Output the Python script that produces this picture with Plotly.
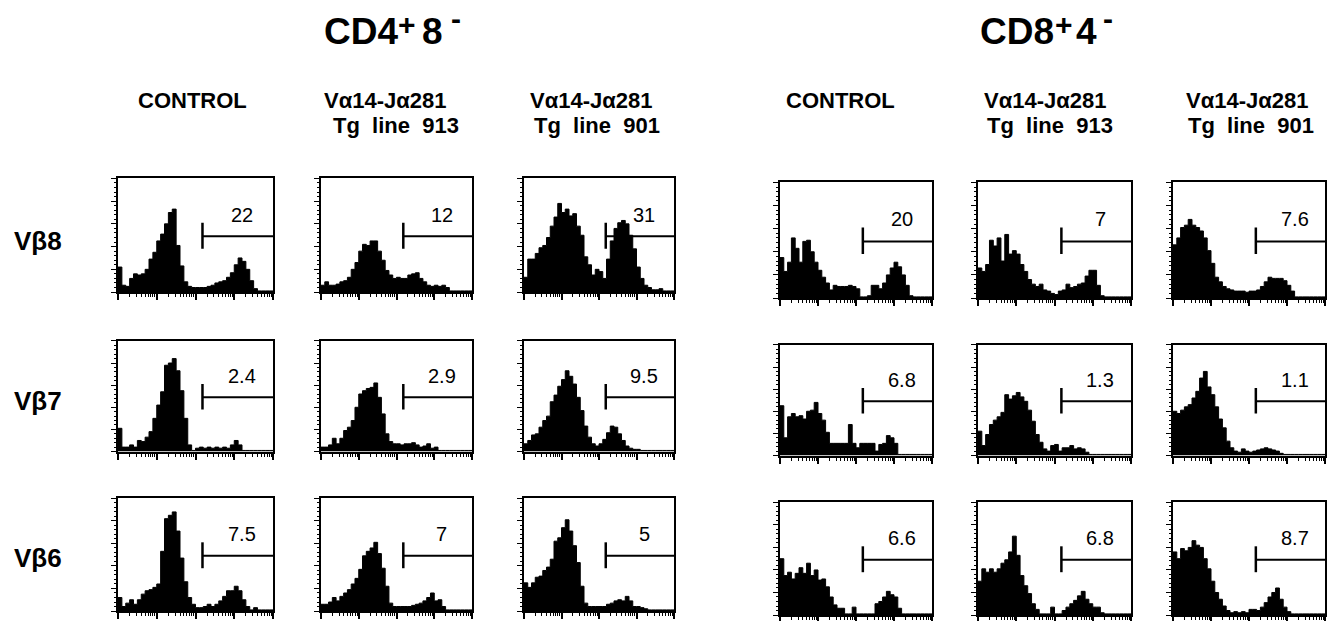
import numpy as np
import plotly.graph_objects as go

# ---------------- data (histogram heights, % of panel height, 40 bins over 4 log decades) ----
CD4_CTRL_VB8 = [22, 6, 5, 12, 16, 15, 16, 20, 29, 35, 45, 51, 60, 70, 73, 41, 23, 9, 5, 4,
                4, 4, 4, 5, 6, 8, 9, 10, 13, 17, 24, 30, 27, 20, 10, 3, 1, 1, 1, 1]
CD4_913_VB8 = [6, 9, 6, 6, 7, 9, 10, 13, 20, 26, 36, 42, 41, 45, 45, 36, 28, 19, 15, 12,
               13, 12, 12, 15, 16, 17, 12, 9, 6, 5, 6, 5, 6, 4, 1, 1, 1, 1, 1, 1]
CD4_901_VB8 = [13, 29, 29, 34, 39, 41, 48, 58, 66, 78, 70, 73, 67, 69, 58, 50, 31, 24, 15, 20,
               18, 12, 29, 45, 56, 61, 63, 60, 50, 38, 22, 12, 6, 4, 2, 2, 3, 1, 1, 1]
CD8_CTRL_VB8 = [35, 23, 31, 52, 43, 31, 49, 50, 40, 31, 24, 18, 13, 7, 11, 10, 10, 10, 11, 10,
                8, 1, 1, 2, 11, 11, 8, 13, 20, 26, 31, 27, 20, 11, 2, 1, 1, 1, 1, 1]
CD8_913_VB8 = [26, 23, 29, 50, 45, 52, 32, 55, 38, 41, 38, 29, 23, 16, 12, 10, 12, 7, 6, 4,
               3, 6, 7, 12, 9, 10, 12, 13, 19, 24, 24, 11, 2, 1, 1, 1, 1, 1, 1, 1]
CD8_901_VB8 = [46, 52, 61, 63, 68, 63, 61, 58, 52, 41, 30, 18, 14, 10, 8, 7, 6, 6, 6, 5,
               6, 6, 7, 10, 14, 18, 17, 17, 17, 15, 11, 6, 1, 1, 1, 1, 1, 1, 1, 1]

CD4_CTRL_VB7 = [21, 4, 4, 6, 4, 10, 9, 13, 18, 30, 42, 54, 78, 80, 84, 73, 55, 30, 6, 1,
                3, 4, 3, 4, 3, 4, 3, 4, 3, 6, 10, 6, 1, 1, 1, 1, 1, 1, 1, 1]
CD4_913_VB7 = [4, 4, 6, 12, 7, 12, 19, 22, 28, 40, 52, 55, 57, 58, 62, 49, 34, 16, 9, 7,
               7, 6, 7, 7, 8, 6, 4, 5, 7, 3, 4, 1, 1, 1, 1, 1, 1, 1, 1, 1]
CD4_901_VB7 = [7, 10, 15, 16, 22, 28, 32, 45, 51, 59, 65, 73, 68, 61, 49, 37, 23, 13, 7, 5,
               7, 11, 17, 23, 22, 16, 10, 5, 3, 2, 2, 1, 1, 1, 1, 1, 1, 1, 1, 1]
CD8_CTRL_VB7 = [45, 16, 35, 38, 35, 36, 33, 40, 41, 48, 38, 32, 21, 11, 11, 11, 11, 11, 28, 11,
                7, 11, 11, 11, 11, 4, 10, 11, 18, 16, 11, 1, 1, 1, 1, 1, 1, 1, 1, 1]
CD8_913_VB7 = [22, 9, 19, 28, 32, 35, 39, 55, 51, 54, 57, 53, 49, 41, 31, 19, 12, 6, 4, 9,
               10, 4, 7, 7, 9, 6, 7, 6, 3, 1, 1, 1, 1, 1, 1, 1, 1, 1, 1, 1]
CD8_901_VB7 = [40, 38, 41, 44, 46, 52, 58, 70, 76, 62, 55, 44, 33, 25, 13, 7, 4, 3, 6, 4,
               3, 4, 5, 6, 7, 6, 5, 4, 2, 1, 1, 1, 1, 1, 1, 1, 1, 1, 1, 1]

CD4_CTRL_VB6 = [12, 4, 7, 10, 6, 10, 15, 18, 19, 21, 24, 53, 82, 85, 88, 71, 47, 26, 12, 6,
                3, 3, 4, 6, 4, 6, 9, 13, 18, 18, 22, 18, 10, 4, 1, 3, 1, 1, 1, 1]
CD4_913_VB6 = [6, 6, 8, 12, 9, 13, 16, 19, 24, 29, 37, 49, 53, 56, 61, 51, 38, 22, 7, 4,
               4, 4, 4, 4, 5, 6, 7, 9, 12, 16, 9, 10, 4, 1, 1, 1, 1, 1, 1, 1]
CD4_901_VB6 = [25, 21, 25, 30, 31, 36, 39, 46, 62, 65, 74, 81, 71, 58, 43, 22, 7, 4, 4, 4,
               4, 4, 6, 7, 9, 10, 9, 13, 9, 4, 4, 3, 2, 1, 1, 1, 1, 1, 1, 1]
CD8_CTRL_VB6 = [50, 35, 38, 32, 37, 42, 37, 46, 35, 40, 31, 32, 25, 16, 9, 6, 6, 1, 1, 7,
                1, 1, 1, 1, 1, 10, 12, 16, 21, 18, 16, 6, 1, 1, 1, 1, 1, 1, 1, 1]
CD8_913_VB6 = [30, 41, 38, 41, 38, 41, 46, 49, 56, 70, 53, 35, 26, 19, 10, 5, 1, 1, 1, 7,
               1, 1, 4, 7, 10, 13, 17, 21, 14, 10, 7, 7, 2, 1, 1, 1, 1, 1, 1, 1]
CD8_901_VB6 = [56, 50, 59, 57, 60, 66, 62, 60, 50, 41, 30, 20, 14, 8, 4, 2, 3, 2, 3, 2,
               5, 5, 4, 7, 11, 16, 20, 24, 14, 7, 3, 1, 1, 1, 1, 1, 1, 1, 1, 1]

GATE_PCT = ["22", "12", "31", "20", "7", "7.6",
            "2.4", "2.9", "9.5", "6.8", "1.3", "1.1",
            "7.5", "7", "5", "6.6", "6.8", "8.7"]

ROW_LABELS = ["Vβ8", "Vβ7", "Vβ6"]
TITLE_PARTS = [["CD4", "+", "8", "-"], ["CD8", "+", "4", "-"]]
COL_LINE1 = ["CONTROL", "Vα14-Jα281", "Vα14-Jα281", "CONTROL", "Vα14-Jα281", "Vα14-Jα281"]
COL_LINE2 = ["", "Tg  line  913", "Tg  line  901", "", "Tg  line  913", "Tg  line  901"]

PANELS = [CD4_CTRL_VB8, CD4_913_VB8, CD4_901_VB8, CD8_CTRL_VB8, CD8_913_VB8, CD8_901_VB8,
          CD4_CTRL_VB7, CD4_913_VB7, CD4_901_VB7, CD8_CTRL_VB7, CD8_913_VB7, CD8_901_VB7,
          CD4_CTRL_VB6, CD4_913_VB6, CD4_901_VB6, CD8_CTRL_VB6, CD8_913_VB6, CD8_901_VB6]

# ---------------- layout geometry (pixels) ----------------
W, H = 1330, 621
COLS_PX = [(118, 273), (321, 472), (524, 674), (780, 932), (978, 1131), (1173, 1325)]
ROWS_LEFT = [(179, 293), (342, 453), (500, 613)]
ROWS_RIGHT = [(183, 299), (346, 457), (504, 617)]
GATE_X = 2.18
FONT = "Liberation Sans, Arial, sans-serif"

edges = np.linspace(0, 4, 41)

fig = go.Figure()
annotations = []
shapes = []

major_x = [0, 1, 2, 3, 4]
minor_x = [d + np.log10(k) for d in range(4) for k in range(2, 10)]

for i, counts in enumerate(PANELS):
    r, c = divmod(i, 6)
    n = i + 1
    xs = "" if n == 1 else str(n)
    x0, x1 = COLS_PX[c]
    y0, y1 = (ROWS_LEFT if c < 3 else ROWS_RIGHT)[r]
    yvals = list(counts) + [counts[-1]]
    fig.add_trace(go.Scatter(
        x=edges, y=yvals, mode="lines", line=dict(shape="hv", color="black", width=1),
        fill="tozeroy", fillcolor="black", xaxis="x" + xs, yaxis="y" + xs,
        showlegend=False, hoverinfo="skip"))
    fig.layout["xaxis" + xs] = dict(
        domain=[x0 / W, x1 / W], anchor="y" + xs, range=[0, 4],
        showgrid=False, zeroline=False, showticklabels=False,
        showline=True, linecolor="black", linewidth=2, mirror=True,
        ticks="outside", tickvals=major_x, ticklen=6, tickwidth=1.5, tickcolor="black",
        minor=dict(tickvals=minor_x, ticks="outside", ticklen=3, tickwidth=1,
                   tickcolor="black", showgrid=False),
        fixedrange=True)
    fig.layout["yaxis" + xs] = dict(
        domain=[1 - y1 / H, 1 - y0 / H], anchor="x" + xs, range=[0, 100],
        showgrid=False, zeroline=False, showticklabels=False,
        showline=True, linecolor="black", linewidth=2, mirror=True,
        ticks="outside", tickvals=[0, 20, 40, 60, 80, 100], ticklen=5, tickwidth=1.2,
        tickcolor="black",
        minor=dict(dtick=4, ticks="outside", ticklen=2.5, tickwidth=1,
                   tickcolor="black", showgrid=False),
        fixedrange=True)
    # gate marker
    shapes.append(dict(type="line", xref="x" + xs, yref="y" + xs,
                       x0=GATE_X, x1=4, y0=49, y1=49,
                       line=dict(color="black", width=2)))
    shapes.append(dict(type="line", xref="x" + xs, yref="y" + xs,
                       x0=GATE_X, x1=GATE_X, y0=38, y1=61,
                       line=dict(color="black", width=2.5)))
    annotations.append(dict(xref="x" + xs, yref="y" + xs, x=3.2, y=68,
                            text=GATE_PCT[i], showarrow=False,
                            xanchor="center", yanchor="middle",
                            font=dict(family=FONT, size=20, color="black")))

# group titles, built piecewise (main text + raised superscripts)
title_left_px = [[322, 396, 420, 449], [978, 1053, 1074, 1101]]
title_y_px = [31.5, 24.8, 31.5, 18.3]
title_size = [37, 30, 37, 30]
for g in range(2):
    for k, part in enumerate(TITLE_PARTS[g]):
        annotations.append(dict(xref="paper", yref="paper",
                                x=title_left_px[g][k] / W, y=1 - title_y_px[k] / H,
                                text="<b>" + part + "</b>", showarrow=False,
                                xanchor="left", yanchor="middle",
                                font=dict(family=FONT, size=title_size[k], color="black")))

# column headers
line1_dx = [-3, -12, -8, -16, -10, -2]
line2_dx = [0, -1, -2, 0, -5, 2]
for c, (x0, x1) in enumerate(COLS_PX):
    cx = (x0 + x1) / 2
    annotations.append(dict(xref="paper", yref="paper", x=(cx + line1_dx[c]) / W,
                            y=1 - 101 / H, text="<b>" + COL_LINE1[c] + "</b>",
                            showarrow=False, xanchor="center", yanchor="middle",
                            font=dict(family=FONT, size=22, color="black")))
    if COL_LINE2[c]:
        annotations.append(dict(xref="paper", yref="paper", x=(cx + line2_dx[c]) / W,
                                y=1 - 126 / H, text="<b>" + COL_LINE2[c] + "</b>",
                                showarrow=False, xanchor="center", yanchor="middle",
                                font=dict(family=FONT, size=22, color="black")))

# row labels
for r, cy in enumerate([242, 402, 560]):
    annotations.append(dict(xref="paper", yref="paper", x=38 / W, y=1 - cy / H,
                            text="<b>" + ROW_LABELS[r] + "</b>", showarrow=False,
                            xanchor="center", yanchor="middle",
                            font=dict(family=FONT, size=26, color="black")))

fig.update_layout(width=W, height=H, margin=dict(l=0, r=0, t=0, b=0),
                  paper_bgcolor="white", plot_bgcolor="white",
                  annotations=annotations, shapes=shapes, showlegend=False)

fig.write_html("out.html", config={"displayModeBar": False},
               post_script="document.body.style.margin='0';"
                           "document.body.style.overflow='hidden';")
